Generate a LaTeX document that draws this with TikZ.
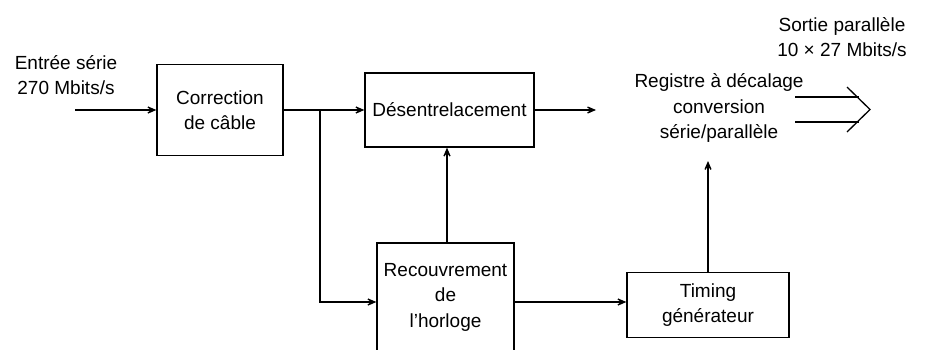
\documentclass[tikz,border=0pt]{standalone}
\usepackage{fontspec}
\setmainfont{Liberation Sans}
\usetikzlibrary{arrows.meta,positioning}
\tikzset{
  box/.style={draw, line width=1.3pt, align=center, inner sep=0pt},
  lbl/.style={align=center, inner sep=0pt},
  flow/.style={line width=1.3pt, -{Stealth[length=15pt, width=13pt, inset=10pt]}},
  wire/.style={line width=1.3pt},
}
\begin{document}
\begin{tikzpicture}[x=1pt, y=-1pt, font=\fontsize{19}{25.5}\selectfont]
\useasboundingbox (0,0) rectangle (927,349);
\clip (0,0) rectangle (927,349);

% blocks
\node[box, minimum width=126, minimum height=91] (corr) at (220,110) {Correction\\de câble};
\node[box, minimum width=169, minimum height=74] (desent) at (449.5,110) {Désentrelacement};
\node[box, minimum width=137, minimum height=118] (recouv) at (445.5,302) {};
\node[lbl] (recouvtxt) at (445.5,297) {Recouvrement\\de\\l’horloge};
\node[box, minimum width=162, minimum height=65] (timing) at (708,305) {Timing\\générateur};

% free labels
\node[lbl] (entree) at (66,75) {Entrée série\\270 Mbits/s};
\node[lbl] (registre) at (719,108) {Registre à décalage\\conversion\\série/parallèle};
\node[lbl] (sortie) at (842,37) {Sortie parallèle\\10 × 27 Mbits/s};

% connector end points
\coordinate (in) at (75,110);
\coordinate (split) at (320,110);
\coordinate (regout) at (596,110);
\coordinate (regin) at (708,161);

% signal flow
\draw[flow] (in) -- (corr.west);
\draw[wire] (corr.east) -- (split);
\draw[flow] (split) -- (desent.west);
\draw[flow] (split) |- (recouv.west);
\draw[flow] (recouv.north -| 447,0) -- (desent.south -| 447,0);
\draw[flow] (recouv.east) -- (recouv.east -| timing.west);
\draw[flow] (timing.north) -- (regin);
\draw[flow] (desent.east) -- (regout);

% parallel output arrow
\coordinate (ptip) at (870,109.5);
\coordinate (ptop) at (847,87);
\coordinate (pbot) at (847,132);
\draw[wire] (795,97) -- (858.5,97);
\draw[wire] (795,122) -- (858.5,122);
\draw[wire, line join=miter] (ptop) -- (ptip) -- (pbot);
\end{tikzpicture}
\end{document}
